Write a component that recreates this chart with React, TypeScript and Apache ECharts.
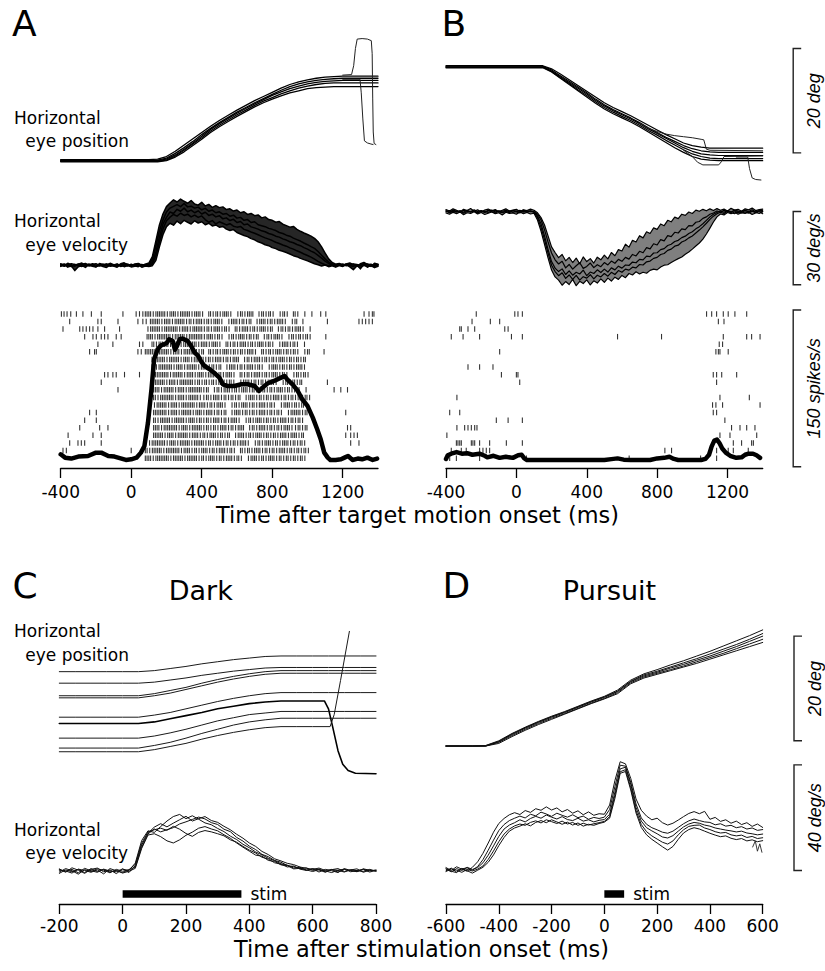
import { useEffect, useRef } from "react";
import * as echarts from "echarts";

// ---------- sample instants (ms) ----------
const sampleTimes = (start: number, end: number, step: number): number[] => {
  const out: number[] = [];
  for (let t = start; t <= end; t += step) out.push(t);
  return out;
};
const T_AB_POS = sampleTimes(-400, 1400, 50);
const T_AB_VEL = sampleTimes(-400, 1400, 20);
const T_C_POS = sampleTimes(-200, 800, 50);
const T_C_VEL = sampleTimes(-200, 800, 20);
const T_D_POS = sampleTimes(-600, 600, 50);
const T_D_VEL = sampleTimes(-600, 600, 20);

// ---------- tick labels ----------
const TICKS_AB = [-400, 0, 400, 800, 1200];
const TICKS_C = [-200, 0, 200, 400, 600, 800];
const TICKS_D = [-600, -400, -200, 0, 200, 400, 600];

// ---------- panel A: eye position (deg) ----------
const A_POS_1 = [0.2,0.2,0.2,0.2,0.2,0.2,0.2,0.2,0.2,0.2,0.2,0.3,0.8,1.8,3.0,4.2,5.4,6.6,7.7,8.7,9.7,10.6,11.5,12.3,13.1,13.9,14.6,15.1,15.5,15.8,16.0,16.1,16.2,16.2,16.2,16.2,16.2];
const A_POS_2 = [0.1,0.1,0.1,0.1,0.1,0.1,0.1,0.1,0.1,0.1,0.1,0.1,0.5,1.4,2.5,3.7,5.0,6.2,7.3,8.3,9.3,10.2,11.1,11.9,12.7,13.5,14.2,14.7,15.1,15.4,15.6,15.7,15.8,15.8,15.8,15.8,15.8];
const A_POS_3 = [0,0,0,0,0,0,0,0,0,0,0,0,0.3,1.1,2.2,3.4,4.7,6.0,7.1,8.1,9.1,10.0,10.9,11.7,12.5,13.2,13.8,14.3,14.7,15.0,15.2,15.3,15.4,15.4,15.4,15.4,15.4];
const A_POS_4 = [-0.1,-0.1,-0.1,-0.1,-0.1,-0.1,-0.1,-0.1,-0.1,-0.1,-0.1,-0.1,0.1,0.9,2.0,3.2,4.4,5.7,6.8,7.8,8.8,9.7,10.6,11.4,12.1,12.8,13.4,13.9,14.3,14.6,14.8,14.9,14.9,14.9,14.9,14.9,14.9];
const A_POS_5 = [-0.2,-0.2,-0.2,-0.2,-0.2,-0.2,-0.2,-0.2,-0.2,-0.2,-0.2,-0.2,0.0,0.7,1.7,2.9,4.1,5.4,6.5,7.5,8.5,9.4,10.3,11.1,11.8,12.4,13.0,13.4,13.8,14.0,14.1,14.2,14.2,14.2,14.2,14.2,14.2];
// late saccades at the end of two trials: [ms, deg]
const A_POS_SACC_1 = [[1200,16.4],[1250,16.5],[1262,18.2],[1272,21.5],[1282,23.3],[1310,23.4],[1340,23.3],[1362,23.0],[1367,20.5],[1370,12.0],[1373,5.5],[1378,3.3],[1388,3.1]];
const A_POS_SACC_2 = [[1200,15.6],[1298,15.6],[1305,13.0],[1314,8.0],[1323,3.8],[1340,3.4],[1360,3.2],[1372,3.1]];

// ---------- panel A: eye velocity (deg/s), 20-ms samples ----------
const A_VEL_1 = [0.6,-0.3,0.8,0.2,-0.5,0.4,0.9,-0.2,0.5,0.1,-0.6,0.7,0.3,-0.1,0.8,0.2,-0.4,0.6,1.0,0.1,-0.3,0.5,0.7,-0.2,0.4,0.9,
  3.5,10,16.5,21,24,25.5,26.8,25.9,27.1,26.2,25.4,26.5,25.1,24.6,25.8,24.3,24.9,23.7,24.4,
  23.6,23.9,22.8,23.1,22.2,22.6,21.5,21.9,20.8,21.2,20.3,20.6,19.4,19.8,18.7,18.4,17.6,17.9,16.8,16.2,15.6,15.9,14.7,13.9,13.2,12.6,11.9,11.0,9.6,7.5,5.0,2.6,1.1,0.4,
  0.7,-0.2,0.5,0.9,0.2,-0.4,0.6,1.1,0.3,-0.5,0.8,0.4];
const A_VEL_2 = [0.2,0.5,-0.1,0.6,0.3,-0.2,0.4,0.7,0.0,0.3,0.6,-0.1,0.4,0.2,0.5,-0.3,0.3,0.1,0.6,0.4,-0.2,0.2,0.5,0.0,0.3,0.2,
  2.5,8.0,14.0,18.5,21.8,23.4,24.1,24.8,24.0,25.3,23.9,24.2,23.4,23.8,22.7,23.3,22.1,22.6,21.5,21.9,20.9,21.2,20.1,20.5,19.3,19.6,18.4,18.7,17.5,17.8,16.6,16.2,15.8,15.1,14.7,14.2,13.4,13.0,12.3,11.9,11.1,10.5,9.9,9.1,8.4,7.6,6.9,5.6,4.1,2.6,1.3,0.5,0.2,0.6,0.1,0.4,-0.2,0.5,0.3,-0.1,0.6,0.2,0.4,-0.3,0.3];
const A_VEL_3 = [-0.2,0.1,0.4,-0.3,0.0,0.5,-0.4,0.2,-0.1,0.6,0.0,-0.3,0.2,0.4,-0.2,0.1,0.5,-0.4,0.0,0.3,0.1,-0.2,0.4,0.2,-0.1,0.0,
  1.2,5.5,11.5,16.8,19.6,21.8,21.2,22.9,22.1,23.4,21.9,22.6,21.5,22.3,21.0,21.7,20.4,20.9,19.8,20.3,19.0,19.4,18.3,18.8,17.5,17.9,16.6,16.9,15.7,15.3,14.8,14.1,13.7,13.0,12.6,11.9,11.5,10.8,10.3,9.6,9.2,8.5,8.0,7.2,6.6,5.8,5.1,4.0,2.9,1.7,0.7,0.1,-0.3,0.2,0.5,-0.2,0.1,0.4,-0.3,0.2,-0.1,0.5,0.0,0.3,-0.2];
const A_VEL_4 = [0.1,-0.4,0.2,-0.6,0.3,-0.1,-0.5,0.4,-0.3,0.0,-0.6,0.2,-0.2,0.5,-0.4,-0.1,0.3,-0.5,0.1,-0.3,0.4,-0.2,-0.6,0.3,-0.1,-0.4,
  0.5,4.0,9.5,14.8,18.2,19.7,20.8,20.1,21.3,20.4,20.9,19.8,20.5,19.6,20.2,18.7,17.6,18.3,16.9,17.8,17.2,16.5,17.0,16.0,15.6,15.9,14.7,14.2,13.6,13.1,12.5,11.8,11.2,10.7,10.1,9.4,8.9,8.3,7.8,7.1,6.6,5.9,5.3,4.6,4.0,3.3,2.5,1.6,0.8,0.2,-0.2,0.3,-0.4,0.1,-0.3,0.4,-0.1,-0.5,0.2,-1.5,0.4,-0.8,0.1,-0.4,0.2];
const A_VEL_5 = [-0.5,0.3,-0.8,-0.2,-2.2,-0.6,-0.1,-0.9,0.2,-0.4,-0.7,0.1,-0.5,-0.9,0.0,-0.3,-0.8,0.2,-0.6,-0.1,-0.7,-0.4,0.1,-0.8,-0.3,-0.5,-0.2,
  2.0,7.5,12.5,15.8,17.2,16.4,18.1,17.0,18.4,17.6,16.9,18.2,17.3,17.8,16.6,17.2,16.1,16.5,15.6,15.9,14.8,14.2,14.6,13.4,12.8,12.2,11.7,10.9,10.4,9.6,9.1,8.4,8.0,7.2,6.8,6.1,5.7,5.2,4.6,3.9,3.5,2.8,2.3,1.8,1.2,0.6,0.2,-0.3,0.1,-0.6,-0.2,-0.8,-0.1,-0.5,0.2,-0.7,-1.8,-0.3,-0.9,0.0,-0.6,-0.2,-1.0,-0.4];

// ---------- panel A: firing rate (spikes/s) ----------
const A_RATE = [[-400,5.4],[-375,2.2],[-340,1.3],[-300,3.2],[-245,3.8],[-200,7.0],[-170,7.0],[-130,3.8],[-95,3.2],[-55,1.3],[-30,0],[0,0.6],[30,2.2],[55,7.0],[75,13.4],[95,35.7],[115,67.6],[130,96.3],[150,105.9],[170,109.7],[200,111.7],[215,115.5],[235,113.9],[248,105.5],[260,109.1],[275,115.5],[290,116.1],[320,113.9],[340,109.1],[360,102.7],[380,99.5],[395,94.7],[415,90.0],[445,86.8],[470,83.5],[500,78.8],[520,72.4],[545,70.8],[585,70.8],[625,72.4],[660,72.4],[700,70.8],[725,66.0],[745,69.2],[775,73.4],[810,75.6],[850,78.8],[870,80.4],[885,77.2],[915,72.4],[945,66.0],[970,58.1],[1000,51.7],[1030,40.5],[1055,29.4],[1075,19.8],[1095,7.0],[1115,2.2],[1130,0],[1160,0],[1190,0.6],[1210,2.2],[1230,3.8],[1255,0],[1285,1.3],[1310,0.6],[1340,2.2],[1370,0],[1395,1.3]];

// ---------- panel A: spike raster, one entry per trial ----------
// pre/post: isolated spike times (ms); burst: one character per 20 ms from `start`
// ('|' one spike, ':' two spikes, '.' none)
const A_RASTER = [
  { pre: [-396,-381,-364,-343,-311,-274,-226,-170,-47,28,47,66], start: 75, burst: "::|:::|::|:::|::|.:|:|::|.|:|::.|:|:|.|:|.:|.|.|", post: [1075,1104,1321,1349,1368,1377] },
  { pre: [-349,-189,-170,-75,38,66,85], start: 104, burst: ":::|::|:::|:|::|:|::|.|::|:|:.|::|:|::|.|:.|", post: [1113,1292,1311,1330,1349,1368] },
  { pre: [-387,-292,-274,-255,-236,-217,-189,-151,-66], start: 85, burst: "|:::|::::|::|:::|:|::|:|.:|::|:|::|:.|:|:|::|.|", post: [] },
  { pre: [-264,-217,-198,-170,-151,-132,-85,-57], start: 85, burst: "::|::::|:::|::::|::|:|.|:|::|:|:.|:|::|.|:|:|:|", post: [1104] },
  { pre: [-189,-104,47,66], start: 113, burst: ":|:::|::|::::|::|::|.:|:|::|:|::|:|.|::|:|.|", post: [] },
  { pre: [-236,-208,-198,38,57], start: 75, burst: ":::|:::|::|::::|:.:|:|::|:|:|::|.:|:|::|:|:|.|:", post: [1094] },
  { pre: [], start: 113, burst: "::::|:::|::|:::|:|::|:|::.|:|::|:|:|::|:|:|:", post: [] },
  { pre: [], start: 113, burst: ":|::::|::|:::|::|:|:.|::|:|::|:|.|::|:|:|::|", post: [] },
  { pre: [-151,-132,-104,-85,-38,47], start: 113, burst: "|::::|:::|::|::|::|:|::|.:|:|::|:|::|:|.|:|:|", post: [] },
  { pre: [-170], start: 132, burst: ":::|::|::::|:|:|:|::|:|.|::|:|:|::|.|:|:|:", post: [1113] },
  { pre: [-75], start: 122, burst: "::|:::|::|::::|:.|:|::|:|::|:|.:|:|::|:|:|.|", post: [1151,1189,1227] },
  { pre: [], start: 122, burst: ":|::::|::|:::||:|::|:|:|:.|::|:|:|::|:|:|:|:|", post: [] },
  { pre: [], start: 122, burst: "|:::|::|::::|::|:|::|.|:|::|:|::|:|.|::|:|:", post: [] },
  { pre: [-236,-198], start: 122, burst: "::::|::|:::|::|::|:|:.|::|:|:|::|:|:|.|:::|:|", post: [1217] },
  { pre: [-264,-198], start: 122, burst: ":|:::|:::|::|:|:|::|:|::|.|:|::|:|:|::|:|:|", post: [] },
  { pre: [-292,-179,-132], start: 122, burst: "::|::::|::|:::|:|:|::|:|::.|:|::|:|:|::||:|:", post: [1227,1245] },
  { pre: [-358,-217,-170], start: 122, burst: ":::|::|:::|::|:|::|:|:.|::|:|::|:|:|::|::|:", post: [1217,1245,1264,1283] },
  { pre: [-349,-302,-283,-264,-170], start: 94, burst: "|::::|::|:::|:::|:|::|:|:|::|.|:|::|:|::|:|:|", post: [1245,1292] },
  { pre: [-387,-368,0], start: 75, burst: ":|:::|::::|::|:|::|:|::|:|.:|:|::|:|:|::|:|:|:|", post: [] },
  { pre: [], start: 75, burst: "::|::::|:::|:::|:|::|:|::|:|.|::|:|::|:|:|:|:|", post: [] },
];

// ---------- panel B: eye position (deg) ----------
const B_POS_1 = [0.2,0.2,0.2,0.2,0.2,0.2,0.2,0.2,0.2,0.2,0.2,0.2,-0.4,-1.4,-2.5,-3.6,-4.7,-5.8,-6.9,-7.8,-8.6,-9.4,-10.3,-11.2,-12.1,-13.0,-13.8,-14.6,-15.1,-15.4,-15.6,-15.6,-15.6,-15.6,-15.6,-15.6,-15.6];
const B_POS_2 = [0.1,0.1,0.1,0.1,0.1,0.1,0.1,0.1,0.1,0.1,0.1,0.1,-0.6,-1.7,-2.8,-3.9,-5.0,-6.2,-7.3,-8.2,-9.0,-9.8,-10.7,-11.7,-12.6,-13.5,-14.3,-15.1,-15.7,-16.1,-16.3,-16.4,-16.4,-16.4,-16.4,-16.4,-16.4];
const B_POS_3 = [0,0,0,0,0,0,0,0,0,0,0,0,-0.8,-1.9,-3.0,-4.1,-5.2,-6.4,-7.5,-8.4,-9.2,-10.0,-10.9,-11.9,-12.8,-13.7,-14.6,-15.5,-16.2,-16.7,-16.9,-17.0,-17.0,-17.0,-17.0,-17.0,-17.0];
const B_POS_4 = [-0.1,-0.1,-0.1,-0.1,-0.1,-0.1,-0.1,-0.1,-0.1,-0.1,-0.1,-0.1,-0.9,-2.1,-3.2,-4.4,-5.5,-6.7,-7.8,-8.7,-9.5,-10.3,-11.2,-12.2,-13.1,-14.1,-15.0,-15.9,-16.7,-17.2,-17.5,-17.6,-17.6,-17.6,-17.6,-17.6,-17.6];
const B_POS_5 = [-0.2,-0.2,-0.2,-0.2,-0.2,-0.2,-0.2,-0.2,-0.2,-0.2,-0.2,-0.2,-1.0,-2.2,-3.4,-4.6,-5.8,-7.0,-8.1,-9.0,-9.8,-10.6,-11.5,-12.5,-13.5,-14.5,-15.5,-16.4,-17.2,-17.7,-17.9,-18.0,-18.0,-18.0,-18.0,-18.0,-18.0];
const B_POS_SLOW = [[700,-10.8],[750,-11.8],[800,-12.4],[850,-12.9],[900,-13.2],[950,-13.4],[1000,-13.6],[1050,-13.9],[1065,-14.0],[1080,-15.8],[1100,-16.0],[1400,-16.1]];
const B_POS_SACC = [[1250,-17.3],[1315,-17.3],[1325,-19.5],[1340,-21.3],[1360,-21.6],[1390,-21.7]];
const B_POS_DIP = [[950,-16.0],[1000,-17.2],[1030,-18.3],[1060,-18.8],[1150,-18.8],[1165,-18.2],[1180,-17.2],[1400,-17.1]];

// ---------- panel B: eye velocity (deg/s), 20-ms samples ----------
const B_VEL_1 = [0.8,0.2,1.1,0.5,-0.2,0.9,0.4,1.2,0.1,0.7,-0.3,0.6,1.0,0.3,0.8,-0.1,0.5,1.1,0.2,0.6,0.9,0.0,0.7,0.4,1.0,0.5,
  -0.5,-2.5,-5.5,-10.0,-14.5,-16.8,-18.9,-17.6,-20.2,-18.8,-20.9,-19.1,-21.4,-18.6,-20.5,-19.3,-21.1,-18.7,-19.8,-17.9,-19.4,-16.8,-18.1,-15.6,
  -16.2,-13.4,-14.6,-11.8,-12.5,-9.9,-10.8,-8.3,-9.0,-6.7,-7.3,-5.1,-5.8,-3.6,-4.2,-2.3,-2.9,-1.1,-1.6,-0.2,-0.8,0.6,0.1,0.9,0.3,1.1,0.4,1.2,0.5,
  1.0,0.2,1.3,0.6,0.9,0.1,1.1,0.7,1.4,0.4,0.8,1.0];
const B_VEL_2 = [0.3,-0.2,0.6,0.1,-0.4,0.5,0.2,-0.1,0.7,0.0,0.4,-0.3,0.2,0.6,-0.2,0.3,0.1,0.5,-0.1,0.4,0.2,-0.3,0.6,0.1,0.3,-0.2,
  -1.0,-3.5,-7.5,-12.5,-17.0,-19.8,-21.5,-20.4,-23.1,-21.7,-23.6,-22.2,-21.0,-23.3,-22.5,-21.1,-23.0,-21.8,-22.6,-20.9,-21.9,-20.3,-21.2,-19.6,-20.4,-18.8,-19.5,-17.6,-18.2,-16.3,-16.9,-14.8,-15.3,-13.2,-13.7,-11.5,-12.0,-9.9,-10.3,-8.5,-8.8,-7.1,-7.4,-5.8,-5.9,-4.4,-4.1,-2.8,-2.2,-1.1,-0.6,0.2,-0.3,0.5,0.1,-0.4,0.6,0.2,-0.3,0.4,0.0,0.7,-0.2,0.3,0.5];
const B_VEL_3 = [-0.1,0.4,-0.5,0.2,0.0,-0.3,0.5,-0.2,0.1,-0.6,0.3,0.0,-0.4,0.2,0.4,-0.2,-0.5,0.1,0.3,-0.4,0.0,0.5,-0.3,0.2,-0.1,0.0,
  -1.8,-5.0,-10.0,-15.5,-20.5,-23.2,-24.6,-23.5,-25.8,-24.3,-26.1,-24.9,-25.6,-24.0,-26.3,-24.8,-25.4,-23.9,-25.0,-23.6,-24.8,-23.1,-23.9,-22.4,-23.2,-21.9,-22.1,-20.7,-21.0,-19.6,-19.8,-18.3,-18.5,-17.0,-16.9,-15.6,-15.2,-13.9,-13.4,-12.3,-11.8,-10.7,-10.1,-9.0,-8.3,-7.1,-6.2,-5.0,-3.6,-2.2,-1.1,-0.4,0.2,-0.3,0.4,-0.1,0.3,-0.5,0.1,0.5,-0.2,0.2,-0.4,0.3,0.0];
const B_VEL_4 = [0.2,-0.5,0.1,-0.3,0.4,-0.7,0.0,-0.2,0.3,-0.5,0.1,-0.4,0.5,-0.1,-0.6,0.2,-0.3,0.0,-0.5,0.3,-0.2,-0.6,0.1,-0.4,0.2,-0.3,
  -2.5,-6.5,-11.5,-17.0,-22.0,-24.6,-26.3,-25.1,-27.4,-26.0,-27.8,-26.2,-28.1,-26.7,-27.3,-25.9,-27.6,-26.1,-26.8,-25.4,-26.5,-24.9,-25.8,-24.2,-24.9,-23.6,-24.0,-22.8,-23.1,-21.7,-21.9,-20.6,-20.3,-19.2,-18.8,-17.6,-17.2,-15.9,-15.4,-14.2,-13.8,-12.5,-11.9,-10.8,-10.0,-8.8,-7.6,-6.3,-4.8,-3.2,-1.9,-0.9,-0.3,-0.8,0.1,-0.5,-0.9,0.0,-0.6,-0.2,-0.7,0.1,-0.4,-0.8,-0.1];
const B_VEL_5 = [-0.6,-1.1,-0.3,-0.9,-0.2,-1.3,-0.5,-0.8,-0.1,-1.0,-0.4,-1.2,-0.7,-0.2,-0.9,-0.5,-1.4,-0.3,-0.8,-0.6,-1.1,-0.2,-0.9,-0.4,-1.0,-0.7,
  -3.5,-8.0,-13.5,-19.0,-24.0,-26.8,-28.1,-30.2,-28.7,-29.9,-27.8,-30.4,-28.6,-29.5,-28.0,-30.1,-28.4,-29.3,-27.6,-29.0,-27.3,-28.5,-26.9,-27.8,-26.2,-27.1,-25.4,-26.0,-24.7,
  -25.6,-24.9,-25.3,-24.1,-23.6,-23.9,-22.7,-22.0,-21.8,-20.9,-20.1,-19.3,-18.6,-17.5,-16.6,-15.4,-14.1,-12.9,-11.3,-9.2,-6.8,-4.3,-2.2,-1.0,-1.4,-0.4,
  -0.9,-0.2,-1.1,-0.5,-0.8,-0.3,-1.2,-0.6,-0.1,-0.9];

// ---------- panel B: firing rate and raster ----------
const B_RATE = [[-400,1.0],[-390,4.5],[-370,6.0],[-340,7.5],[-310,6.0],[-280,6.5],[-250,5.0],[-210,6.0],[-180,4.0],[-165,2.5],[-130,4.0],[-95,2.0],[-60,3.0],[-20,2.0],[10,4.5],[30,5.0],[45,1.5],[60,0],[500,0],[540,0.8],[575,1.5],[610,0.3],[650,0],[760,0],[800,1.5],[840,2.0],[870,3.0],[895,1.0],[920,0],[1050,0],[1075,1.0],[1095,5.0],[1110,13.0],[1125,18.5],[1140,19.5],[1155,16.0],[1170,11.0],[1190,7.0],[1215,4.0],[1250,2.0],[1280,2.5],[1300,5.0],[1320,6.0],[1345,6.0],[1365,4.5],[1385,2.0]];
const B_RASTER = [
  [-228,-9,9,34,1081,1110,1138,1176,1204,1242,1309],
  [-252,-148,-95,1148,1180],
  [-322,-313,-275,-237,-66,-47],
  [-370,-303,-209,-28,34,575,825,1176,1309,1337,1385],
  [1153,1172],
  [-95,1134,1148,1157,1204],
  [],
  [-275,-209,-133],
  [-85,0,9,1119,1138,1167,1252],
  [19,1138],
  [],
  [-338,1157,1324],
  [1115,1134,1172,1385],
  [-379,-322,1119,1138],
  [-114,-47,34,1185],
  [-338,-294,-275,-256,-237,-224,1223,1271,1309,1356],
  [-395,1157,1214,1366],
  [-341,-332,-322,-313,-256,-247,-237,-209,-152,-57,34,1233,1280,1337,1347],
  [-370,-313,-285,-209,-190,-171,-152,844,882,1138,1204,1233,1318],
  [-379,-341,-209,57,641,1047,1138],
];

// ---------- panel C (dark): eye position (deg) ----------
const C_POS_1 = [20.7,20.7,20.7,20.7,20.7,20.7,20.9,21.3,21.7,22.2,22.6,23.0,23.3,23.6,23.7,23.7,23.7,23.7,23.7,23.7,23.7];
const C_POS_2 = [18.5,18.5,18.5,18.5,18.5,18.5,18.7,19.1,19.5,20.0,20.4,20.8,21.1,21.4,21.5,21.5,21.5,21.5,21.5,21.5,21.5];
const C_POS_3 = [16.1,16.1,16.1,16.1,16.1,16.1,16.5,17.1,17.7,18.5,19.2,19.8,20.3,20.7,20.9,20.9,20.9,20.9,20.9,20.9,20.9];
const C_POS_4 = [15.7,15.7,15.7,15.7,15.7,15.7,16.1,16.6,17.3,18.0,18.7,19.3,19.8,20.2,20.4,20.4,20.4,20.4,20.4,20.4,20.4];
const C_POS_5 = [12.0,12.0,12.0,12.0,12.0,12.0,12.4,12.9,13.6,14.3,15.0,15.6,16.1,16.5,16.7,16.7,16.7,16.7,16.7,16.7,16.7];
const C_POS_6 = [8.0,8.0,8.0,8.0,8.0,8.0,8.4,9.0,9.7,10.5,11.3,11.9,12.5,12.8,13.1,13.1,13.1,13.1,13.1,13.1,13.1];
const C_POS_7 = [6.1,6.1,6.1,6.1,6.1,6.1,6.6,7.2,8.0,8.9,9.7,10.5,11.1,11.5,11.8,11.8,11.8,11.8,11.8,11.8,11.8];
const C_POS_DOWN = [[-200,10.8],[-150,10.8],[-100,10.8],[-50,10.8],[0,10.8],[50,10.8],[100,11.1],[150,11.7],[200,12.3],[250,12.9],[300,13.6],[350,14.1],[400,14.6],[450,14.9],[500,15.1],[550,15.1],[600,15.1],[637,15.1],[650,13.6],[663,10.2],[680,5.6],[695,3.0],[712,1.8],[735,1.3],[800,1.2]];
const C_POS_UP = [[-200,5.4],[-150,5.4],[-100,5.4],[-50,5.4],[0,5.4],[50,5.4],[100,5.8],[150,6.4],[200,7.0],[250,7.8],[300,8.5],[350,9.1],[400,9.6],[450,10.0],[500,10.2],[550,10.2],[600,10.2],[655,10.2],[668,12.5],[688,19.0],[716,28.4]];

// ---------- panel C: eye velocity (deg/s), 20-ms samples ----------
const C_VEL_1 = [0.8,-0.5,1.2,0.3,-0.9,0.6,1.1,-0.3,0.4,-1.0,0.7,0.2,3.0,11.5,15.2,14.6,16.8,18.9,20.6,21.4,19.8,20.9,19.6,18.2,17.5,16.1,14.9,13.2,11.9,10.1,8.8,7.2,6.1,4.8,3.9,2.7,2.2,1.1,1.4,0.3,0.8,-0.4,0.6,0.1,-0.6,0.9,0.2,-0.3,0.7,0.0,0.4];
const C_VEL_2 = [-0.4,0.9,0.1,-1.2,0.5,-0.2,0.8,0.3,-0.7,0.6,-0.1,0.4,1.5,9.0,14.0,15.9,14.8,15.6,16.4,17.8,18.6,19.5,20.4,19.7,18.3,17.6,15.8,14.9,12.7,11.3,9.4,8.1,6.3,5.4,4.0,3.3,2.1,1.6,0.9,1.2,0.2,0.7,-0.3,0.5,0.9,-0.2,0.4,0.8,-0.5,0.3,0.1];
const C_VEL_3 = [0.3,0.0,-0.8,0.7,0.2,-0.5,0.4,-1.1,0.9,0.1,-0.6,0.5,2.5,10.5,14.8,15.6,16.2,15.4,16.9,15.8,14.2,13.1,14.6,15.3,14.8,14.1,13.3,11.8,10.9,9.3,7.9,6.8,5.2,4.5,3.1,2.6,1.5,1.9,0.7,0.2,0.9,0.4,-0.5,0.6,0.2,-0.4,0.5,0.1,-0.2,0.6,-0.1];
const C_VEL_4 = [-0.9,0.4,-0.3,0.6,-0.6,0.9,-0.2,0.5,-0.4,0.2,-0.8,-0.1,1.0,8.5,13.6,14.1,13.0,11.4,10.6,11.8,13.5,14.7,16.2,16.8,15.9,15.2,13.7,12.4,10.6,9.0,7.5,6.0,5.6,4.0,3.6,2.3,2.0,0.8,1.0,0.4,-0.2,0.5,0.0,-0.6,0.3,0.7,-0.3,0.2,0.5,-0.4,0.2];
const C_VEL_5 = [0.5,-0.2,0.6,-0.7,1.0,0.1,-0.5,0.7,0.0,-0.3,0.8,-0.6,2.0,9.8,14.3,16.6,17.9,16.7,18.1,19.4,20.7,18.9,19.8,20.6,19.1,18.4,16.9,15.6,13.9,12.4,10.6,9.3,7.4,6.2,4.6,3.8,2.9,2.4,1.5,1.0,0.6,1.1,0.2,0.5,-0.4,0.6,0.1,-0.2,0.8,0.3,0.0];
const C_STIM = [0, 375]; // stimulation train, ms

// ---------- panel D (pursuit): eye position (deg) ----------
const D_POS_1 = [0,0,0,0.1,1.0,2.4,3.6,4.7,5.7,6.6,7.6,8.6,9.5,10.7,12.6,13.8,14.6,15.5,16.3,17.2,18.1,19.1,20.1,21.1,22.2];
const D_POS_2 = [0,0,0,0.05,0.9,2.3,3.5,4.6,5.6,6.5,7.5,8.5,9.4,10.5,12.4,13.6,14.3,15.1,15.9,16.7,17.6,18.5,19.4,20.4,21.5];
const D_POS_3 = [0,0,0,0,0.8,2.2,3.4,4.5,5.5,6.4,7.4,8.4,9.3,10.4,12.3,13.4,14.1,14.9,15.6,16.4,17.2,18.1,19.0,20.0,21.0];
const D_POS_4 = [0,0,0,0,0.7,2.0,3.2,4.3,5.3,6.2,7.2,8.2,9.1,10.2,12.1,13.2,13.9,14.6,15.3,16.1,16.9,17.7,18.6,19.5,20.4];
const D_POS_5 = [0,0,0,0,0.5,1.8,3.0,4.1,5.1,6.1,7.1,8.1,9.0,10.0,11.9,13.0,13.7,14.4,15.1,15.8,16.6,17.4,18.2,19.0,19.8];

// ---------- panel D: eye velocity (deg/s), 20-ms samples ----------
const D_VEL_1 = [0.8,-0.3,1.1,0.2,-0.6,0.9,3.0,6.2,10.1,14.2,17.5,19.4,20.8,21.6,20.9,22.4,21.7,23.1,22.5,23.8,22.6,23.4,21.9,22.8,21.4,22.3,20.8,21.9,20.6,21.2,21.0,24.5,33.8,40.9,40.1,34.6,26.8,22.5,20.3,18.9,19.5,17.8,16.9,17.6,18.8,20.1,21.3,22.0,21.2,22.1,19.1,19.8,18.3,18.9,17.6,18.4,17.1,17.8,16.4,17.3,16.0];
const D_VEL_2 = [-0.4,0.6,-0.9,0.3,0.7,-0.2,1.2,3.8,7.4,11.2,14.8,17.1,18.6,19.5,20.3,19.6,21.0,20.4,21.8,21.1,20.2,21.4,20.6,19.9,20.8,19.7,20.3,19.1,19.8,19.4,19.9,22.8,31.5,39.6,39.2,33.1,24.9,19.6,17.2,15.9,15.1,14.2,13.8,14.6,16.0,17.4,18.5,19.2,18.6,18.1,17.9,17.0,17.4,16.5,16.8,15.9,16.3,15.4,15.8,14.9,15.2];
const D_VEL_3 = [0.2,-0.8,0.4,-0.3,0.9,0.1,0.8,2.6,5.5,9.0,12.6,15.4,16.9,17.8,18.9,18.1,19.4,20.2,19.5,20.7,19.9,19.2,20.1,19.0,18.6,19.5,18.4,18.9,18.1,18.7,19.0,21.0,29.4,38.2,38.8,32.4,23.6,18.4,15.9,14.7,13.6,12.4,12.0,12.9,14.6,16.2,17.3,17.9,17.6,16.9,16.5,15.8,15.4,15.0,14.7,14.3,14.6,13.9,13.6,13.2,13.5];
const D_VEL_4 = [-0.7,0.3,-0.2,-1.0,0.1,-0.5,0.2,1.4,3.9,7.1,10.6,13.5,15.4,16.6,17.3,16.8,17.9,18.5,17.7,18.9,18.2,17.5,18.4,17.3,17.9,16.8,17.6,16.9,17.4,17.8,18.3,20.1,28.2,37.1,37.9,31.0,22.4,17.1,14.4,12.8,11.6,10.4,9.7,10.9,13.2,15.1,16.4,16.8,16.9,15.8,15.2,14.4,13.9,14.1,13.2,12.8,13.1,12.2,12.6,11.8,12.1];
const D_VEL_5 = [0.4,-0.6,-1.1,0.5,-0.4,-1.3,-0.2,0.9,2.8,5.6,9.1,12.2,14.6,15.8,16.5,17.4,16.6,17.9,18.6,17.8,18.9,18.1,17.2,18.0,16.9,17.7,16.5,17.2,16.8,17.5,18.0,19.5,27.0,36.5,37.2,30.2,21.5,16.0,13.2,11.5,10.1,8.7,7.4,8.8,11.5,13.9,15.2,15.9,15.4,14.6,13.8,13.1,12.5,12.8,11.9,11.4,11.8,10.9,11.3,10.6,11.0];
const D_VEL_TAIL = [[562,8.6],[572,10.9],[580,7.0],[589,9.8],[597,6.6]];
const D_STIM = [0, 75];

// ---------- calibration bars: size, unit and lower end in data units ----------
const BAR_B_POS = { size: 20, unit: "deg", from: -16.5 };
const BAR_B_VEL = { size: 30, unit: "deg/s", from: -30 };
const BAR_B_RATE = { size: 150, unit: "spikes/s", from: -6.5 };
const BAR_D_POS = { size: 20, unit: "deg", from: 1 };
const BAR_D_VEL = { size: 40, unit: "deg/s", from: -0.3 };

// ---------- layout ----------
const FONT = '"DejaVu Sans", "Liberation Sans", Arial, sans-serif';
const GRIDS = [
  { left: 60.7, top: 25, width: 317.3, height: 161.8 },   // 0 A position
  { left: 60.7, top: 192, width: 317.3, height: 102.5 },  // 1 A velocity
  { left: 60.7, top: 301, width: 317.3, height: 167 },    // 2 A raster
  { left: 446, top: 25, width: 316.7, height: 161.8 },    // 3 B position
  { left: 446, top: 192, width: 316.7, height: 102.5 },   // 4 B velocity
  { left: 446, top: 301, width: 316.7, height: 167 },     // 5 B raster
  { left: 59.3, top: 623, width: 316.7, height: 157 },    // 6 C position
  { left: 59.3, top: 797, width: 316.7, height: 107 },    // 7 C velocity
  { left: 59.3, top: 888, width: 316.7, height: 12 },     // 8 C stim
  { left: 446, top: 625.7, width: 316.7, height: 130.8 }, // 9 D position
  { left: 446, top: 757.5, width: 316.7, height: 146.5 }, // 10 D velocity
  { left: 446, top: 888, width: 316.7, height: 12 },      // 11 D stim
];

const pair = (ts: number[], vs: number[]) => vs.map((v, i) => [ts[i], v]);

function spikeTimes(row: { pre: number[]; start: number; burst: string; post: number[] }): number[] {
  const out = [...row.pre];
  for (let j = 0; j < row.burst.length; j++) {
    const b = row.start + 20 * j;
    const c = row.burst[j];
    if (c === "|") out.push(b + 10);
    else if (c === ":") out.push(b + 5, b + 15);
  }
  return out.concat(row.post);
}

function lineSeries(xi: number, yi: number, data: number[][], width: number, color = "#000", z = 2) {
  return {
    type: "line", xAxisIndex: xi, yAxisIndex: yi, data, showSymbol: false, symbol: "none",
    silent: true, progressive: 0, z,
    lineStyle: { color, width, join: "round", cap: "round" },
  };
}

// dark envelope between the lowest and highest trace of a dense bundle
function bundleShade(xi: number, yi: number, ts: number[], lower: number[], upper: number[], alpha: number) {
  return {
    type: "custom", xAxisIndex: xi, yAxisIndex: yi, silent: true, z: 1,
    data: [[ts[0], lower[0]]],
    renderItem: (_p: any, api: any) => {
      const pts: number[][] = [];
      for (let i = 0; i < ts.length; i++) pts.push(api.coord([ts[i], upper[i]]));
      for (let i = ts.length - 1; i >= 0; i--) pts.push(api.coord([ts[i], lower[i]]));
      return { type: "polygon", shape: { points: pts }, style: { fill: `rgba(0,0,0,${alpha})`, stroke: "none" } };
    },
  };
}

function xAxisCfg(gridIndex: number, min: number, max: number, ticks: number[] | null, margin = 15) {
  if (!ticks) return { type: "value", gridIndex, min, max, show: false };
  return {
    type: "value", gridIndex, min, max, show: true, position: "bottom",
    axisLine: { show: true, onZero: false, lineStyle: { color: "#000", width: 1.3 } },
    axisTick: { show: true, inside: false, length: 10, customValues: ticks, lineStyle: { color: "#000", width: 1.3 } },
    axisLabel: { show: true, customValues: ticks, margin, color: "#000", fontSize: 17, fontFamily: FONT, formatter: (v: number) => String(v) },
    splitLine: { show: false },
  };
}

const yAxisCfg = (gridIndex: number, min: number, max: number, inverse = false) =>
  ({ type: "value", gridIndex, min, max, inverse, show: false, splitLine: { show: false } });

function calibrationBar(xi: number, yi: number, xRef: number, bar: { size: number; unit: string; from: number }, dx: number) {
  const label = `${bar.size} ${bar.unit}`;
  return {
    type: "custom", xAxisIndex: xi, yAxisIndex: yi, silent: true, clip: false, z: 3,
    data: [[xRef, bar.from, bar.from + bar.size]],
    renderItem: (_p: any, api: any) => {
      const a = api.coord([api.value(0), api.value(1)]);
      const b = api.coord([api.value(0), api.value(2)]);
      const x = a[0] + dx;
      return {
        type: "group",
        children: [
          { type: "polyline", shape: { points: [[x + 8, a[1]], [x, a[1]], [x, b[1]], [x + 8, b[1]]] },
            style: { stroke: "#222", lineWidth: 1.4, fill: "none" } },
          { type: "text", x: x + 21, y: (a[1] + b[1]) / 2, rotation: Math.PI / 2,
            style: { text: label, font: 'italic 18px "Liberation Sans", Arial, sans-serif', fill: "#000", align: "center", verticalAlign: "middle" } },
        ],
      };
    },
  };
}

function stimSeries(xi: number, yi: number, span: number[]) {
  return {
    type: "line", xAxisIndex: xi, yAxisIndex: yi, data: [[span[0], 0.5], [span[1], 0.5]],
    showSymbol: false, symbol: "none", silent: true, clip: false,
    lineStyle: { color: "#000", width: 7.5, cap: "butt" },
    endLabel: { show: true, formatter: "stim", distance: 9, color: "#000", fontSize: 17, fontFamily: FONT },
  };
}

function rasterSeries(xi: number, yi: number, rows: number[][]) {
  const data: number[][] = [];
  rows.forEach((ts, i) => ts.forEach((t) => data.push([t, i + 1])));
  return {
    type: "scatter", xAxisIndex: xi, yAxisIndex: yi, data, symbol: "rect", symbolSize: [1.1, 5.5],
    itemStyle: { color: "#000" }, silent: true, progressive: 0, z: 2,
  };
}

const text = (s: string, x: number, y: number, size: number, align = "left") => ({
  type: "text", x, y, silent: true,
  style: { text: s, font: `${size}px ${FONT}`, fill: "#000", align, verticalAlign: "middle", textAlign: align, textVerticalAlign: "middle" },
});

function buildOption() {
  const aRows = A_RASTER.map(spikeTimes);
  const series: any[] = [
    // A
    ...[A_POS_1, A_POS_2, A_POS_3, A_POS_4, A_POS_5].map((v) => lineSeries(0, 0, pair(T_AB_POS, v), 1.3)),
    lineSeries(0, 0, A_POS_SACC_1, 1.0, "#222"),
    lineSeries(0, 0, A_POS_SACC_2, 1.0, "#222"),
    bundleShade(1, 1, T_AB_VEL, A_VEL_5, A_VEL_1, 0.85),
    ...[A_VEL_1, A_VEL_2, A_VEL_3, A_VEL_4, A_VEL_5].map((v) => lineSeries(1, 1, pair(T_AB_VEL, v), 1.5)),
    rasterSeries(2, 3, aRows),
    lineSeries(2, 2, A_RATE, 4.5, "#000", 5),
    // B
    ...[B_POS_1, B_POS_2, B_POS_3, B_POS_4, B_POS_5].map((v) => lineSeries(3, 4, pair(T_AB_POS, v), 1.2)),
    lineSeries(3, 4, B_POS_SLOW, 1.0, "#222"),
    lineSeries(3, 4, B_POS_SACC, 1.0, "#222"),
    lineSeries(3, 4, B_POS_DIP, 1.0, "#222"),
    bundleShade(4, 5, T_AB_VEL, B_VEL_5, B_VEL_1, 0.5),
    ...[B_VEL_1, B_VEL_2, B_VEL_3, B_VEL_4, B_VEL_5].map((v) => lineSeries(4, 5, pair(T_AB_VEL, v), 1.2)),
    rasterSeries(5, 7, B_RASTER),
    lineSeries(5, 6, B_RATE, 4.5, "#000", 5),
    calibrationBar(3, 4, 1400, BAR_B_POS, 30.5),
    calibrationBar(4, 5, 1400, BAR_B_VEL, 30.5),
    calibrationBar(5, 6, 1400, BAR_B_RATE, 30.5),
    // C
    ...[C_POS_1, C_POS_2, C_POS_3, C_POS_4, C_POS_5, C_POS_6, C_POS_7].map((v) => lineSeries(6, 8, pair(T_C_POS, v), 1.0, "#1a1a1a")),
    lineSeries(6, 8, C_POS_DOWN, 1.6, "#000"),
    lineSeries(6, 8, C_POS_UP, 1.0, "#1a1a1a"),
    ...[C_VEL_1, C_VEL_2, C_VEL_3, C_VEL_4, C_VEL_5].map((v) => lineSeries(7, 9, pair(T_C_VEL, v), 1.0, "#111")),
    stimSeries(8, 10, C_STIM),
    // D
    ...[D_POS_1, D_POS_2, D_POS_3, D_POS_4, D_POS_5].map((v) => lineSeries(9, 11, pair(T_D_POS, v), 1.0, "#111")),
    ...[D_VEL_1, D_VEL_2, D_VEL_3, D_VEL_4, D_VEL_5].map((v) => lineSeries(10, 12, pair(T_D_VEL, v), 1.0, "#111")),
    lineSeries(10, 12, D_VEL_TAIL, 0.9, "#222"),
    stimSeries(11, 13, D_STIM),
    calibrationBar(9, 11, 600, BAR_D_POS, 31.3),
    calibrationBar(10, 12, 600, BAR_D_VEL, 31.3),
  ];

  return {
    animation: false,
    backgroundColor: "#fff",
    textStyle: { fontFamily: FONT },
    grid: GRIDS.map((g) => ({ ...g, containLabel: false, outerBoundsMode: "none", show: false })),
    xAxis: [
      xAxisCfg(0, -400, 1400, null),
      xAxisCfg(1, -400, 1400, null),
      xAxisCfg(2, -400, 1400, TICKS_AB),
      xAxisCfg(3, -400, 1400, null),
      xAxisCfg(4, -400, 1400, null),
      xAxisCfg(5, -400, 1400, TICKS_AB),
      xAxisCfg(6, -200, 800, null),
      xAxisCfg(7, -200, 800, TICKS_C, 13),
      xAxisCfg(8, -200, 800, null),
      xAxisCfg(9, -600, 600, null),
      xAxisCfg(10, -600, 600, TICKS_D, 13),
      xAxisCfg(11, -600, 600, null),
    ],
    yAxis: [
      yAxisCfg(0, -5, 26),
      yAxisCfg(1, -12, 30),
      yAxisCfg(2, -7.7, 152.1),
      yAxisCfg(2, -0.7, 21.3, true),
      yAxisCfg(3, -23, 8),
      yAxisCfg(4, -34, 8),
      yAxisCfg(5, -7.7, 152.1),
      yAxisCfg(5, -0.7, 21.3, true),
      yAxisCfg(6, 0, 30),
      yAxisCfg(7, -12.5, 28),
      yAxisCfg(8, 0, 1),
      yAxisCfg(9, -2, 23),
      yAxisCfg(10, -13, 42.5),
      yAxisCfg(11, 0, 1),
    ],
    series,
    graphic: [
      text("A", 12, 23.7, 36),
      text("B", 441.5, 23.5, 36),
      text("C", 12.5, 585.5, 36),
      text("D", 442.5, 585.8, 36),
      text("Dark", 200.8, 590.3, 27, "center"),
      text("Pursuit", 609.5, 590, 27, "center"),
      text("Horizontal", 14, 117.8, 17),
      text("eye position", 25.3, 140.5, 17),
      text("Horizontal", 14, 221.2, 17),
      text("eye velocity", 25.3, 244.5, 17),
      text("Horizontal", 14, 631.2, 17),
      text("eye position", 25.3, 654.5, 17),
      text("Horizontal", 14, 829.5, 17),
      text("eye velocity", 25.3, 853, 17),
      text("Time after target motion onset (ms)", 417.5, 515, 22.4, "center"),
      text("Time after stimulation onset (ms)", 421.5, 949, 22.4, "center"),
    ],
  };
}

export default function App() {
  const ref = useRef<HTMLDivElement>(null);
  useEffect(() => {
    if (!ref.current) return;
    const chart = echarts.init(ref.current, null, { renderer: "svg" });
    chart.setOption(buildOption() as any);
    return () => chart.dispose();
  }, []);
  return (
    <div
      ref={ref}
      style={{ position: "fixed", left: 0, top: 0, width: 825, height: 971, background: "#fff" }}
    />
  );
}
